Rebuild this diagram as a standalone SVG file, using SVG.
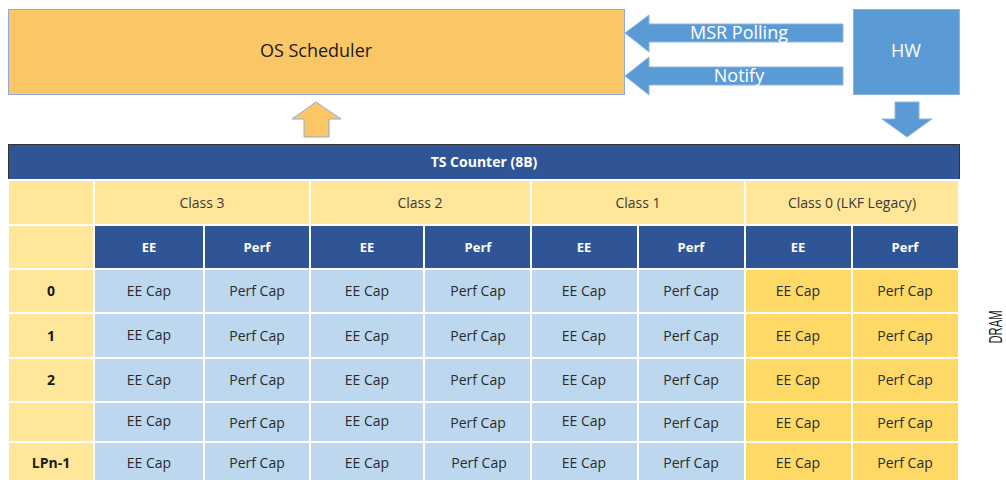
<svg xmlns="http://www.w3.org/2000/svg" width="1006" height="480" viewBox="0 0 1006 480">
<style>
.t{font-family:"Open Sans","Noto Sans","Liberation Sans",sans-serif;text-anchor:middle}
.big{font-size:18px}
.cell{font-size:14px;fill:#2b2b2b}
.cls{font-size:14px;fill:#3a3a3a}
.hdr{font-size:13px;font-weight:bold;fill:#ffffff}
.ts{font-size:14px;font-weight:bold;fill:#ffffff}
.rl{font-size:14px;font-weight:bold;fill:#1a1a1a}
.g{stroke:#ffffff;stroke-width:2}
.lb{fill:#BDD7EE}
.ly{fill:#FFE699}
.dy{fill:#FFD966}
.db{fill:#2F5597}
.barrow{fill:#5B9BD5;stroke:#8FB4E0;stroke-width:1}
</style>
<rect width="1006" height="480" fill="#ffffff"/>
<g id="os-scheduler">
<rect x="8.5" y="9.5" width="616" height="85" fill="#FBC666" stroke="#8FAADC" stroke-width="1"/>
<text class="t big" x="316" y="57" fill="#1a1a1a">OS Scheduler</text>
</g>
<g id="hw">
<rect x="853.5" y="9.5" width="106" height="85" fill="#5B9BD5" stroke="#8FB4E0" stroke-width="1"/>
<text class="t big" x="906" y="57" fill="#ffffff">HW</text>
</g>
<g id="connectors">
<polygon class="barrow" points="625,33 649,15 649,24 843,24 843,42 649,42 649,52"/>
<text class="t big" x="739" y="39" fill="#ffffff">MSR Polling</text>
<polygon class="barrow" points="625,76 649,57 649,67 843,67 843,85 649,85 649,95"/>
<text class="t big" x="739" y="82" fill="#ffffff">Notify</text>
<polygon points="316,102 341,119 329,119 329,137 304,137 304,119 292,119" fill="#FBC666" stroke="#8FAADC" stroke-width="1"/>
<polygon class="barrow" points="895,102 919,102 919,119 932,119 907,137 882,119 895,119"/>
</g>
<g id="ts-counter">
<rect x="8.5" y="144.5" width="951" height="35" class="db" stroke="#333333" stroke-width="1"/>
<text class="t ts" x="484" y="167">TS Counter (8B)</text>
</g>
<g id="table">
<g class="g">
<rect x="8" y="180" width="86" height="45" class="ly"/>
<rect x="94" y="180" width="216" height="45" class="ly"/>
<rect x="310" y="180" width="221" height="45" class="ly"/>
<rect x="531" y="180" width="214" height="45" class="ly"/>
<rect x="745" y="180" width="214" height="45" class="ly"/>
<rect x="8" y="225" width="86" height="44" class="ly"/>
<rect x="94" y="225" width="110" height="44" class="db"/>
<rect x="204" y="225" width="106" height="44" class="db"/>
<rect x="310" y="225" width="114" height="44" class="db"/>
<rect x="424" y="225" width="107" height="44" class="db"/>
<rect x="531" y="225" width="107" height="44" class="db"/>
<rect x="638" y="225" width="107" height="44" class="db"/>
<rect x="745" y="225" width="107" height="44" class="db"/>
<rect x="852" y="225" width="107" height="44" class="db"/>
</g>
<g class="g">
<rect x="8" y="269" width="86" height="44" class="ly"/>
<rect x="8" y="313" width="86" height="45" class="ly"/>
<rect x="8" y="358" width="86" height="44" class="ly"/>
<rect x="8" y="402" width="86" height="40" class="ly"/>
<rect x="8" y="442" width="86" height="40" class="ly"/>
</g>
<g class="g">
<rect x="94" y="269" width="110" height="44" class="lb"/><rect x="204" y="269" width="106" height="44" class="lb"/><rect x="310" y="269" width="114" height="44" class="lb"/><rect x="424" y="269" width="107" height="44" class="lb"/><rect x="531" y="269" width="107" height="44" class="lb"/><rect x="638" y="269" width="107" height="44" class="lb"/><rect x="745" y="269" width="107" height="44" class="dy"/><rect x="852" y="269" width="107" height="44" class="dy"/>
<rect x="94" y="313" width="110" height="45" class="lb"/><rect x="204" y="313" width="106" height="45" class="lb"/><rect x="310" y="313" width="114" height="45" class="lb"/><rect x="424" y="313" width="107" height="45" class="lb"/><rect x="531" y="313" width="107" height="45" class="lb"/><rect x="638" y="313" width="107" height="45" class="lb"/><rect x="745" y="313" width="107" height="45" class="dy"/><rect x="852" y="313" width="107" height="45" class="dy"/>
<rect x="94" y="358" width="110" height="44" class="lb"/><rect x="204" y="358" width="106" height="44" class="lb"/><rect x="310" y="358" width="114" height="44" class="lb"/><rect x="424" y="358" width="107" height="44" class="lb"/><rect x="531" y="358" width="107" height="44" class="lb"/><rect x="638" y="358" width="107" height="44" class="lb"/><rect x="745" y="358" width="107" height="44" class="dy"/><rect x="852" y="358" width="107" height="44" class="dy"/>
<rect x="94" y="402" width="110" height="40" class="lb"/><rect x="204" y="402" width="106" height="40" class="lb"/><rect x="310" y="402" width="114" height="40" class="lb"/><rect x="424" y="402" width="107" height="40" class="lb"/><rect x="531" y="402" width="107" height="40" class="lb"/><rect x="638" y="402" width="107" height="40" class="lb"/><rect x="745" y="402" width="107" height="40" class="dy"/><rect x="852" y="402" width="107" height="40" class="dy"/>
<rect x="94" y="442" width="110" height="40" class="lb"/><rect x="204" y="442" width="106" height="40" class="lb"/><rect x="310" y="442" width="114" height="40" class="lb"/><rect x="424" y="442" width="107" height="40" class="lb"/><rect x="531" y="442" width="107" height="40" class="lb"/><rect x="638" y="442" width="107" height="40" class="lb"/><rect x="745" y="442" width="107" height="40" class="dy"/><rect x="852" y="442" width="107" height="40" class="dy"/>
</g>
<text class="t cls" x="202" y="208">Class 3</text>
<text class="t cls" x="420" y="208">Class 2</text>
<text class="t cls" x="638" y="208">Class 1</text>
<text class="t cls" x="852" y="208">Class 0 (LKF Legacy)</text>
<text class="t hdr" x="149" y="252">EE</text>
<text class="t hdr" x="257" y="252">Perf</text>
<text class="t hdr" x="367" y="252">EE</text>
<text class="t hdr" x="478" y="252">Perf</text>
<text class="t hdr" x="584" y="252">EE</text>
<text class="t hdr" x="691" y="252">Perf</text>
<text class="t hdr" x="798" y="252">EE</text>
<text class="t hdr" x="905" y="252">Perf</text>
<text class="t rl" x="51" y="296">0</text>
<text class="t rl" x="51" y="341">1</text>
<text class="t rl" x="51" y="385">2</text>
<text class="t rl" x="51" y="468">LPn-1</text>
<g class="t cell">
<text x="149" y="296">EE Cap</text><text x="257" y="296">Perf Cap</text><text x="367" y="296">EE Cap</text><text x="478" y="296">Perf Cap</text><text x="584" y="296">EE Cap</text><text x="691" y="296">Perf Cap</text><text x="798" y="296">EE Cap</text><text x="905" y="296">Perf Cap</text>
<text x="149" y="340">EE Cap</text><text x="257" y="341">Perf Cap</text><text x="367" y="341">EE Cap</text><text x="478" y="341">Perf Cap</text><text x="584" y="341">EE Cap</text><text x="691" y="341">Perf Cap</text><text x="798" y="341">EE Cap</text><text x="905" y="341">Perf Cap</text>
<text x="149" y="385">EE Cap</text><text x="257" y="385">Perf Cap</text><text x="367" y="385">EE Cap</text><text x="478" y="385">Perf Cap</text><text x="584" y="385">EE Cap</text><text x="691" y="385">Perf Cap</text><text x="798" y="385">EE Cap</text><text x="905" y="385">Perf Cap</text>
<text x="149" y="426">EE Cap</text><text x="257" y="428">Perf Cap</text><text x="367" y="426">EE Cap</text><text x="478" y="428">Perf Cap</text><text x="584" y="426">EE Cap</text><text x="691" y="428">Perf Cap</text><text x="798" y="428">EE Cap</text><text x="905" y="428">Perf Cap</text>
<text x="149" y="468">EE Cap</text><text x="257" y="468">Perf Cap</text><text x="367" y="468">EE Cap</text><text x="479" y="468">Perf Cap</text><text x="584" y="468">EE Cap</text><text x="691" y="468">Perf Cap</text><text x="798" y="468">EE Cap</text><text x="905" y="468">Perf Cap</text>
</g>
</g>
<g id="dram">
<text transform="translate(1002,327) rotate(-90)" text-anchor="middle" font-family="Liberation Sans, sans-serif" font-size="18" fill="#1a1a1a" textLength="33" lengthAdjust="spacingAndGlyphs">DRAM</text>
</g>
</svg>
